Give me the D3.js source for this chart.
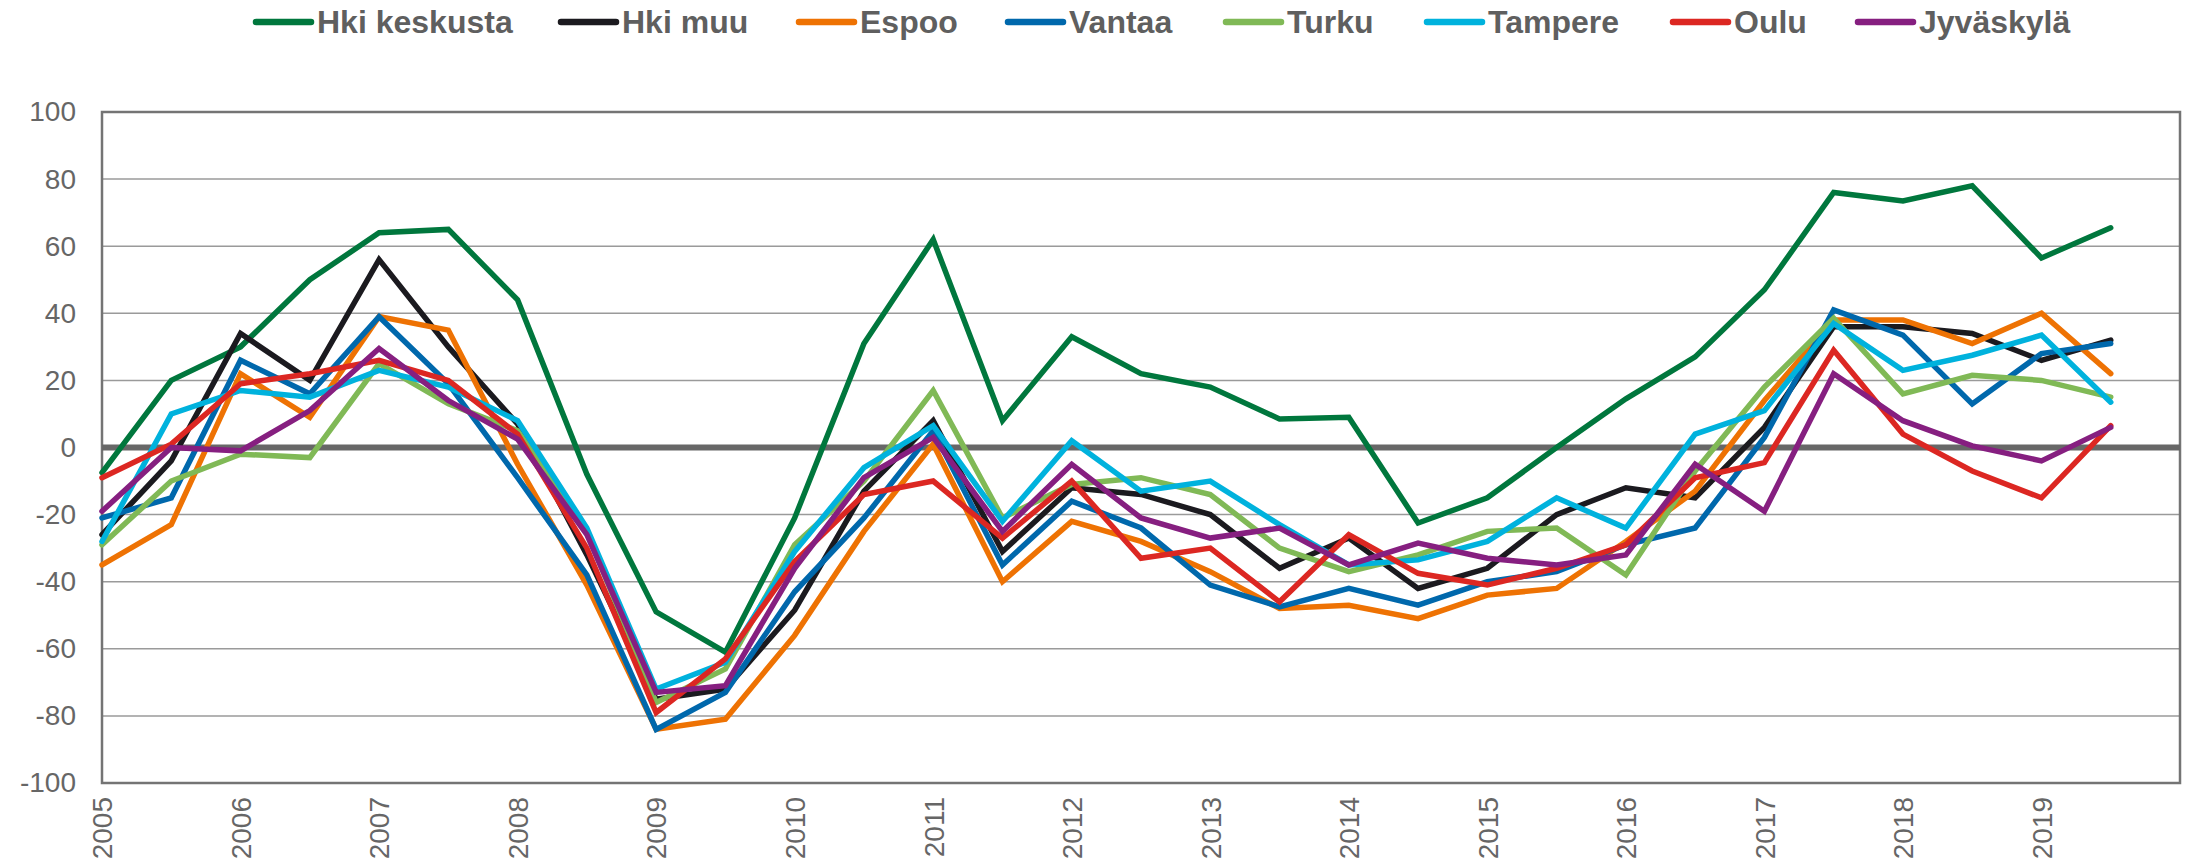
<!DOCTYPE html>
<html>
<head>
<meta charset="utf-8">
<script src="https://cdn.jsdelivr.net/npm/d3@7"></script>
<style>
  body { margin: 0; background: #fff; }
  svg { display: block; font-family: "Liberation Sans", Arial, sans-serif; }
</style>
</head>
<body>
<script>
// half-year periods, 2005 H1 ... 2019 H2
const periods = [
  '2005 H1', '2005 H2', '2006 H1', '2006 H2', '2007 H1', '2007 H2', '2008 H1', '2008 H2',
  '2009 H1', '2009 H2', '2010 H1', '2010 H2', '2011 H1', '2011 H2', '2012 H1', '2012 H2',
  '2013 H1', '2013 H2', '2014 H1', '2014 H2', '2015 H1', '2015 H2', '2016 H1', '2016 H2',
  '2017 H1', '2017 H2', '2018 H1', '2018 H2', '2019 H1', '2019 H2'
];
const yearLabels = ['2005', '2006', '2007', '2008', '2009', '2010', '2011', '2012',
  '2013', '2014', '2015', '2016', '2017', '2018', '2019'];
const yTicks = [-100, -80, -60, -40, -20, 0, 20, 40, 60, 80, 100];

const seriesNames = ['Hki keskusta', 'Hki muu', 'Espoo', 'Vantaa', 'Turku', 'Tampere', 'Oulu', 'Jyväskylä'];
const colors = ['#00773d', '#1b1a1f', '#ee7203', '#0068ac', '#80b956', '#00b2dd', '#dc2722', '#861f80'];

const hkiKeskusta = [-7.5, 20, 30, 50, 64, 65, 44, -8, -49, -61, -21, 31, 62, 8, 33, 22, 18, 8.5, 9, -22.5, -15, 0, 14.5, 27, 47, 76, 73.5, 78, 56.5, 65.5];
const hkiMuu      = [-26, -4, 34, 20, 56, 30, 7, -32, -75, -72, -48.5, -13, 8, -31, -12, -14, -20, -36, -27, -42, -36, -20, -12, -15, 6, 36, 36, 34, 26, 32];
const espoo       = [-35, -23, 22, 9, 39, 35, -5, -41, -84, -81, -56, -25, 1, -40, -22, -28, -37, -48, -47, -51, -44, -42, -28, -13, 14, 38, 38, 31, 40, 22];
const vantaa      = [-21, -15, 26, 16, 39, 19, -9, -38, -84, -73, -43, -21, 5, -35, -16, -24, -41, -47.5, -42, -47, -40, -37, -29, -24, 3, 41, 33.5, 13, 28, 31];
const turku       = [-29, -10, -2, -3, 25, 13, 5, -25, -76, -66, -29, -10, 17, -21, -11, -9, -14, -30, -37, -32, -25, -24, -38, -7, 18, 38.5, 16, 21.5, 20, 15];
const tampere     = [-28, 10, 17, 15, 23, 18, 8, -24, -72, -64, -31, -6, 6.5, -22, 2, -13, -10, -23, -35, -33.5, -28, -15, -24, 4, 11, 37, 23, 27.5, 33.5, 13.5];
const oulu        = [-9, 1, 19, 22, 26, 20, 4, -30, -79, -63, -34, -14, -10, -27, -10, -33, -30, -46, -26, -37.5, -41, -36, -29, -9, -4.5, 29, 4, -7, -15, 6.5];
const jyvaskyla   = [-19, 0, -1, 11, 29.5, 14, 2.5, -26, -73, -71, -36, -9, 3, -25, -5, -21, -27, -24, -35, -28.5, -33, -35, -32, -5, -19, 22, 8, 0.5, -4, 6];

const seriesValues = [hkiKeskusta, hkiMuu, espoo, vantaa, turku, tampere, oulu, jyvaskyla];

const width = 2190, height = 868;
const margin = { top: 112, right: 10, bottom: 85, left: 102 };
const plotW = width - margin.left - margin.right;
const plotH = height - margin.top - margin.bottom;

const svg = d3.select('body').append('svg')
  .attr('width', width)
  .attr('height', height);

// one empty slot after the last period, like the original
const x = d3.scaleLinear()
  .domain([0, periods.length])
  .range([margin.left, margin.left + plotW]);

const y = d3.scaleLinear()
  .domain([-100, 100])
  .range([margin.top + plotH, margin.top]);

// gridlines
svg.append('g')
  .selectAll('line')
  .data(yTicks.filter(d => d !== 0 && d !== -100 && d !== 100))
  .enter()
  .append('line')
  .attr('x1', margin.left)
  .attr('x2', margin.left + plotW)
  .attr('y1', d => y(d))
  .attr('y2', d => y(d))
  .attr('stroke', '#9a9a9a')
  .attr('stroke-width', 1.5);

// plot border
svg.append('rect')
  .attr('x', margin.left)
  .attr('y', margin.top)
  .attr('width', plotW)
  .attr('height', plotH)
  .attr('fill', 'none')
  .attr('stroke', '#747474')
  .attr('stroke-width', 2.5);

// zero line
svg.append('line')
  .attr('x1', margin.left)
  .attr('x2', margin.left + plotW)
  .attr('y1', y(0))
  .attr('y2', y(0))
  .attr('stroke', '#676767')
  .attr('stroke-width', 6);

// y axis labels (plain hyphen for negatives, as in the original)
const yAxis = d3.axisLeft(y)
  .tickValues(yTicks)
  .tickSize(0)
  .tickPadding(26)
  .tickFormat(d => String(d));

svg.append('g')
  .attr('transform', `translate(${margin.left},0)`)
  .call(yAxis)
  .call(g => g.select('.domain').remove())
  .call(g => g.selectAll('text')
    .attr('font-size', 28)
    .attr('fill', '#666')
    .attr('font-family', '"Liberation Sans", Arial, sans-serif'));

// x axis labels, every full year
const xAxis = d3.axisBottom(x)
  .tickValues(yearLabels.map((d, i) => i * 2))
  .tickSize(0)
  .tickFormat((d, i) => yearLabels[i]);

svg.append('g')
  .attr('transform', `translate(0,${margin.top + plotH})`)
  .call(xAxis)
  .call(g => g.select('.domain').remove())
  .call(g => g.selectAll('text')
    .attr('font-size', 28)
    .attr('fill', '#666')
    .attr('font-family', '"Liberation Sans", Arial, sans-serif')
    .attr('text-anchor', 'end')
    .attr('dy', '0.35em')
    .attr('transform', 'translate(0,14) rotate(-90)')
    .attr('x', 0)
    .attr('y', 0));

// lines
const line = d3.line()
  .x((d, i) => x(i))
  .y(d => y(d));

svg.append('g')
  .selectAll('path')
  .data(seriesValues)
  .enter()
  .append('path')
  .attr('d', d => line(d))
  .attr('fill', 'none')
  .attr('stroke', (d, i) => colors[i])
  .attr('stroke-width', 5.5)
  .attr('stroke-linecap', 'round')
  .attr('stroke-linejoin', 'miter');

// legend
const legendX = [256, 561, 799, 1008, 1226, 1427, 1673, 1858];
const legend = svg.append('g')
  .selectAll('g')
  .data(seriesNames)
  .enter()
  .append('g')
  .attr('transform', (d, i) => `translate(${legendX[i]},22)`);

legend.append('line')
  .attr('x1', 0)
  .attr('x2', 55)
  .attr('stroke', (d, i) => colors[i])
  .attr('stroke-width', 6.5)
  .attr('stroke-linecap', 'round');

legend.append('text')
  .attr('x', 61)
  .attr('dy', '0.35em')
  .attr('font-size', 32)
  .attr('font-weight', 'bold')
  .attr('fill', '#5f5f5f')
  .text(d => d);
</script>
</body>
</html>
